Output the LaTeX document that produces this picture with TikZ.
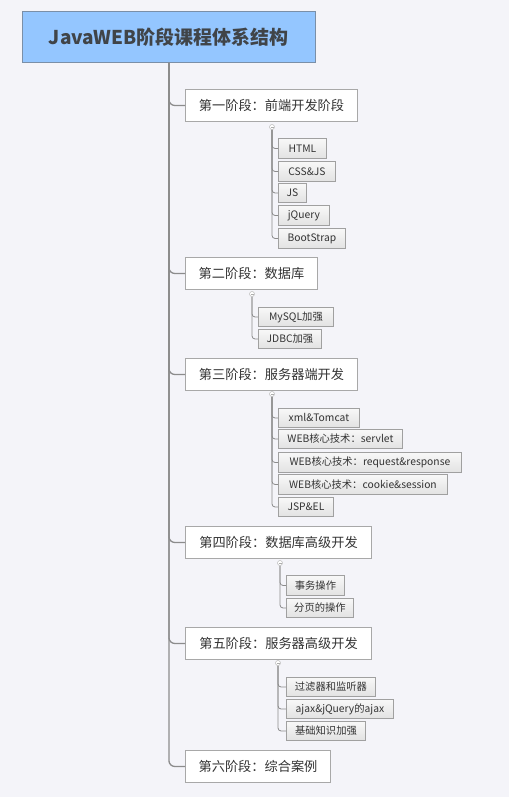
\documentclass[tikz,border=0pt]{standalone}
\usepackage{fontspec}
\setmainfont{Noto Sans CJK SC}
\definecolor{bg}{HTML}{F4F4F9}
\definecolor{rootfill}{HTML}{94C6FF}
\definecolor{rootline}{HTML}{7A8FA8}
\definecolor{boxline}{HTML}{A8A8A8}
\definecolor{kidline}{HTML}{A0A0A0}
\definecolor{kidfill}{HTML}{EDEDED}
\definecolor{conn}{HTML}{8C8C8C}
\definecolor{txt}{HTML}{333333}
\definecolor{roottxt}{HTML}{404448}
\tikzset{
  rootbox/.style={draw=rootline, fill=rootfill, line width=0.8pt, anchor=north west, inner sep=0pt, text=roottxt, font=\fontsize{19}{21}\selectfont\bfseries},
  stagebox/.style={draw=boxline, fill=white, line width=1pt, anchor=north west, inner sep=0pt, text=txt, font=\fontsize{13.2}{15}\selectfont},
  kidbox/.style={draw=kidline, top color=white!60!kidfill, bottom color=kidfill!90!gray, line width=0.9pt, anchor=north west, inner sep=0pt, text=txt, font=\fontsize{10.3}{12}\selectfont},
  trunk/.style={draw=conn, line width=1.3pt, rounded corners=6pt},
  kidconn/.style={draw=conn, line width=0.8pt, rounded corners=3pt},
  knob/.style={circle, draw=conn!60, fill=white, line width=0.5pt, minimum size=5pt, inner sep=0pt},
}
\begin{document}
\begin{tikzpicture}[x=1pt,y=-1pt]
\fill[bg] (0,0) rectangle (509,797);
\useasboundingbox (0,0) rectangle (509,797);
% root
\node[rootbox, minimum width=293pt, minimum height=51pt] (root) at (22,11) {JavaWEB阶段课程体系结构};
% stages
\node[stagebox, minimum width=172pt, minimum height=32pt] (s1) at (185,89) {第一阶段：前端开发阶段};
\node[stagebox, minimum width=132pt, minimum height=32pt] (s2) at (185,257) {第二阶段：数据库};
\node[stagebox, minimum width=172pt, minimum height=32pt] (s3) at (185,358) {第三阶段：服务器端开发};
\node[stagebox, minimum width=186pt, minimum height=32pt] (s4) at (185,526) {第四阶段：数据库高级开发};
\node[stagebox, minimum width=186pt, minimum height=32pt] (s5) at (185,627) {第五阶段：服务器高级开发};
\node[stagebox, minimum width=145pt, minimum height=32pt] (s6) at (185,750) {第六阶段：综合案例};
% trunk connectors
\foreach \s in {s1,s2,s3,s4,s5,s6}{
  \draw[trunk] (root.south) |- (\s.west);
}
% knobs
\node[knob] (k1) at (272,127) {};
\node[knob] (k2) at (252,294) {};
\node[knob] (k3) at (272,394) {};
\node[knob] (k4) at (280,563) {};
\node[knob] (k5) at (278,663) {};
% stage 1 kids
\node[kidbox, minimum width=48pt, minimum height=20pt] (c11) at (278,138) {HTML};
\node[kidbox, minimum width=57pt, minimum height=20pt] (c12) at (278,161) {CSS\&JS};
\node[kidbox, minimum width=28pt, minimum height=19pt] (c13) at (278,183) {JS};
\node[kidbox, minimum width=51pt, minimum height=20pt] (c14) at (278,205) {jQuery};
\node[kidbox, minimum width=67pt, minimum height=20pt] (c15) at (278,228) {BootStrap};
% stage 2 kids
\node[kidbox, minimum width=75pt, minimum height=19pt] (c21) at (258,307) {MySQL加强};
\node[kidbox, minimum width=63pt, minimum height=19pt] (c22) at (258,329) {JDBC加强};
% stage 3 kids
\node[kidbox, minimum width=81pt, minimum height=19pt] (c31) at (278,408) {xml\&Tomcat};
\node[kidbox, minimum width=124pt, minimum height=19pt] (c32) at (278,429) {WEB核心技术：servlet};
\node[kidbox, minimum width=183pt, minimum height=20pt] (c33) at (278,452) {WEB核心技术：request\&response};
\node[kidbox, minimum width=169pt, minimum height=20pt] (c34) at (278,474) {WEB核心技术：cookie\&session};
\node[kidbox, minimum width=55pt, minimum height=19pt] (c35) at (278,497) {JSP\&EL};
% stage 4 kids
\node[kidbox, minimum width=58pt, minimum height=20pt] (c41) at (286,575) {事务操作};
\node[kidbox, minimum width=67pt, minimum height=19pt] (c42) at (286,598) {分页的操作};
% stage 5 kids
\node[kidbox, minimum width=89pt, minimum height=19pt] (c51) at (286,677) {过滤器和监听器};
\node[kidbox, minimum width=107pt, minimum height=19pt] (c52) at (286,699) {ajax\&jQuery的ajax};
\node[kidbox, minimum width=79pt, minimum height=19pt] (c53) at (286,721) {基础知识加强};
% kid connectors
\foreach \c in {c11,c12,c13,c14,c15}{ \draw[kidconn] (k1.south) |- (\c.west); }
\foreach \c in {c21,c22}{ \draw[kidconn] (k2.south) |- (\c.west); }
\foreach \c in {c31,c32,c33,c34,c35}{ \draw[kidconn] (k3.south) |- (\c.west); }
\foreach \c in {c41,c42}{ \draw[kidconn] (k4.south) |- (\c.west); }
\foreach \c in {c51,c52,c53}{ \draw[kidconn] (k5.south) |- (\c.west); }
% knob minus signs
\foreach \k in {k1,k2,k3,k4,k5}{
  \draw[conn!70, line width=0.5pt] ([xshift=-1.5pt]\k.center) -- ([xshift=1.5pt]\k.center);
}
\end{tikzpicture}
\end{document}
